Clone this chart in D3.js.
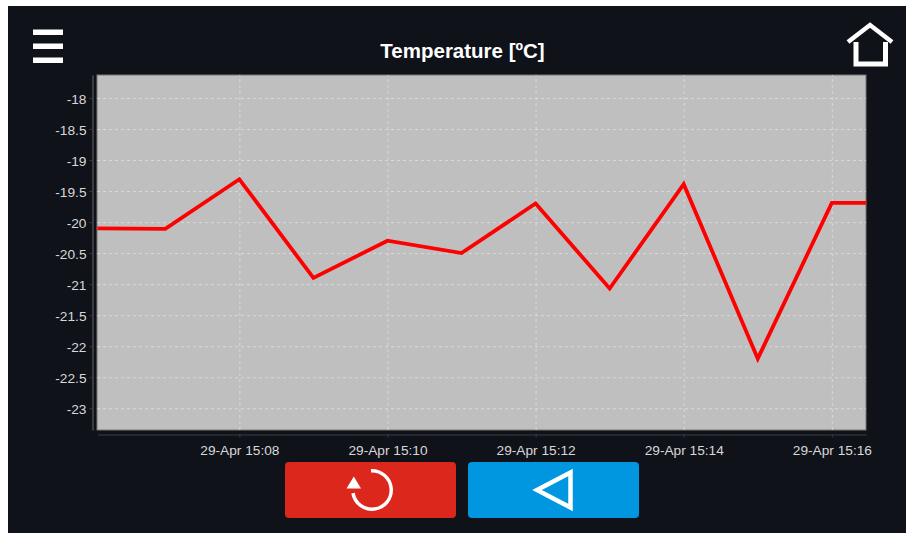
<!DOCTYPE html>
<html>
<head>
<meta charset="utf-8">
<script src="https://cdn.jsdelivr.net/npm/d3@7"></script>
<style>
  html, body { margin: 0; padding: 0; background: #fff; }
  svg { display: block; }
  text { font-family: "Liberation Sans", Arial, sans-serif; }
  .tick text { fill: #d8d8d8; font-size: 13.7px; }
</style>
</head>
<body>
<svg id="chart" width="906" height="533"></svg>
<script>
const times = ["15:06:05", "15:07:00", "15:08:00", "15:09:00", "15:10:00", "15:11:00",
  "15:12:00", "15:13:00", "15:14:00", "15:15:00", "15:16:00", "15:16:28"];
const temps = [-20.1, -20.11, -19.31, -20.9, -20.3, -20.5, -19.7, -21.07, -19.39, -22.2, -19.69, -19.69];
const yTicks = [-18, -18.5, -19, -19.5, -20, -20.5, -21, -21.5, -22, -22.5, -23];
const xTickTimes = ["15:08:00", "15:10:00", "15:12:00", "15:14:00", "15:16:00"];
const xDomain = ["15:06:05", "15:16:28"];
const yDomain = [-23.35, -17.63];

const parse = s => d3.timeParse("%Y-%m-%d %H:%M:%S")("2021-04-29 " + s);

const svg = d3.select("#chart");
const plot = {left: 97, right: 866, top: 75, bottom: 430};

const x = d3.scaleTime().domain(xDomain.map(parse)).range([plot.left + 0.4, plot.right + 0.4]);
const y = d3.scaleLinear().domain(yDomain).range([plot.bottom, plot.top]);

// page background
svg.append("rect").attr("x", 8).attr("y", 6).attr("width", 898).attr("height", 527).attr("fill", "#10121a");

// plot area
svg.append("rect")
  .attr("x", plot.left).attr("y", plot.top)
  .attr("width", plot.right - plot.left).attr("height", plot.bottom - plot.top)
  .attr("fill", "#bfbfbf").attr("stroke", "#777").attr("stroke-width", 1);

// grid
const gridX = d3.axisBottom(x).tickValues(xTickTimes.map(parse)).tickSize(-(plot.bottom - plot.top)).tickFormat("");
svg.append("g").attr("transform", `translate(0,${plot.bottom})`).call(gridX)
  .call(g => g.select(".domain").remove())
  .selectAll("line").attr("stroke", "#e6e6e6").attr("stroke-opacity", 0.65).attr("stroke-dasharray", "3,3");
const gridY = d3.axisLeft(y).tickValues(yTicks).tickSize(-(plot.right - plot.left)).tickFormat("");
svg.append("g").attr("transform", `translate(${plot.left},0)`).call(gridY)
  .call(g => g.select(".domain").remove())
  .selectAll("line").attr("stroke", "#e6e6e6").attr("stroke-opacity", 0.65).attr("stroke-dasharray", "3,3");

// axes, pushed a little off the plot
const xAxis = d3.axisBottom(x).tickValues(xTickTimes.map(parse))
  .tickSize(3).tickPadding(7).tickSizeOuter(0).tickFormat(d3.timeFormat("%d-%b %H:%M"));
svg.append("g").attr("transform", `translate(0,${plot.bottom + 4.5})`).call(xAxis)
  .call(g => g.selectAll(".domain,line").attr("stroke", "#3a3c42"))
  .call(g => g.selectAll("text").attr("dy", "0.75em"));
const yAxis = d3.axisLeft(y).tickValues(yTicks)
  .tickSize(3).tickPadding(3).tickSizeOuter(0).tickFormat(d => d);
svg.append("g").attr("transform", `translate(${plot.left - 4.5},0)`).call(yAxis)
  .call(g => g.selectAll(".domain,line").attr("stroke", "#3a3c42"))
  .call(g => g.select(".domain").attr("stroke-width", 2))
  .call(g => g.selectAll("text").attr("dy", "0.38em"));

// series
const line = d3.line().x(d => x(d.t)).y(d => y(d.v));
svg.append("path")
  .datum(times.map((t, i) => ({t: parse(t), v: temps[i]})))
  .attr("d", line).attr("fill", "none").attr("stroke", "#ff0000")
  .attr("stroke-width", 3.8).attr("stroke-linejoin", "miter");

// title
svg.append("text").attr("x", 462.5).attr("y", 58).attr("text-anchor", "middle")
  .attr("fill", "#fff").attr("font-size", 20.5).attr("font-weight", "bold").text("Temperature [ºC]");

// menu icon
svg.append("g").selectAll("rect").data([29.5, 43.5, 57.5]).join("rect")
  .attr("x", 33).attr("y", d => d).attr("width", 30).attr("height", 5.5).attr("fill", "#fff");

// home icon
svg.append("path").attr("d", "M848 42 L870 25 L892 42").attr("fill", "none")
  .attr("stroke", "#fff").attr("stroke-width", 4.5);
svg.append("path").attr("d", "M856 42 V64 H885.5 V42").attr("fill", "none")
  .attr("stroke", "#fff").attr("stroke-width", 5);

// buttons
svg.append("rect").attr("x", 285).attr("y", 462).attr("width", 171).attr("height", 56).attr("rx", 4).attr("fill", "#dc271c");
svg.append("rect").attr("x", 468).attr("y", 462).attr("width", 171).attr("height", 56).attr("rx", 4).attr("fill", "#0096e0");

// reload icon
svg.append("path").attr("d", d3.arc()({innerRadius: 17.5, outerRadius: 21, startAngle: -0.05, endAngle: 4.55}))
  .attr("transform", "translate(372,490)").attr("fill", "#fff");
svg.append("path").attr("d", "M346.5 488.5 L361 488.5 L353.8 476.5 Z").attr("fill", "#fff");

// back icon
svg.append("path").attr("d", "M537 490 L570.5 472.5 V507.5 Z").attr("fill", "none")
  .attr("stroke", "#fff").attr("stroke-width", 4.5);
</script>
</body>
</html>
